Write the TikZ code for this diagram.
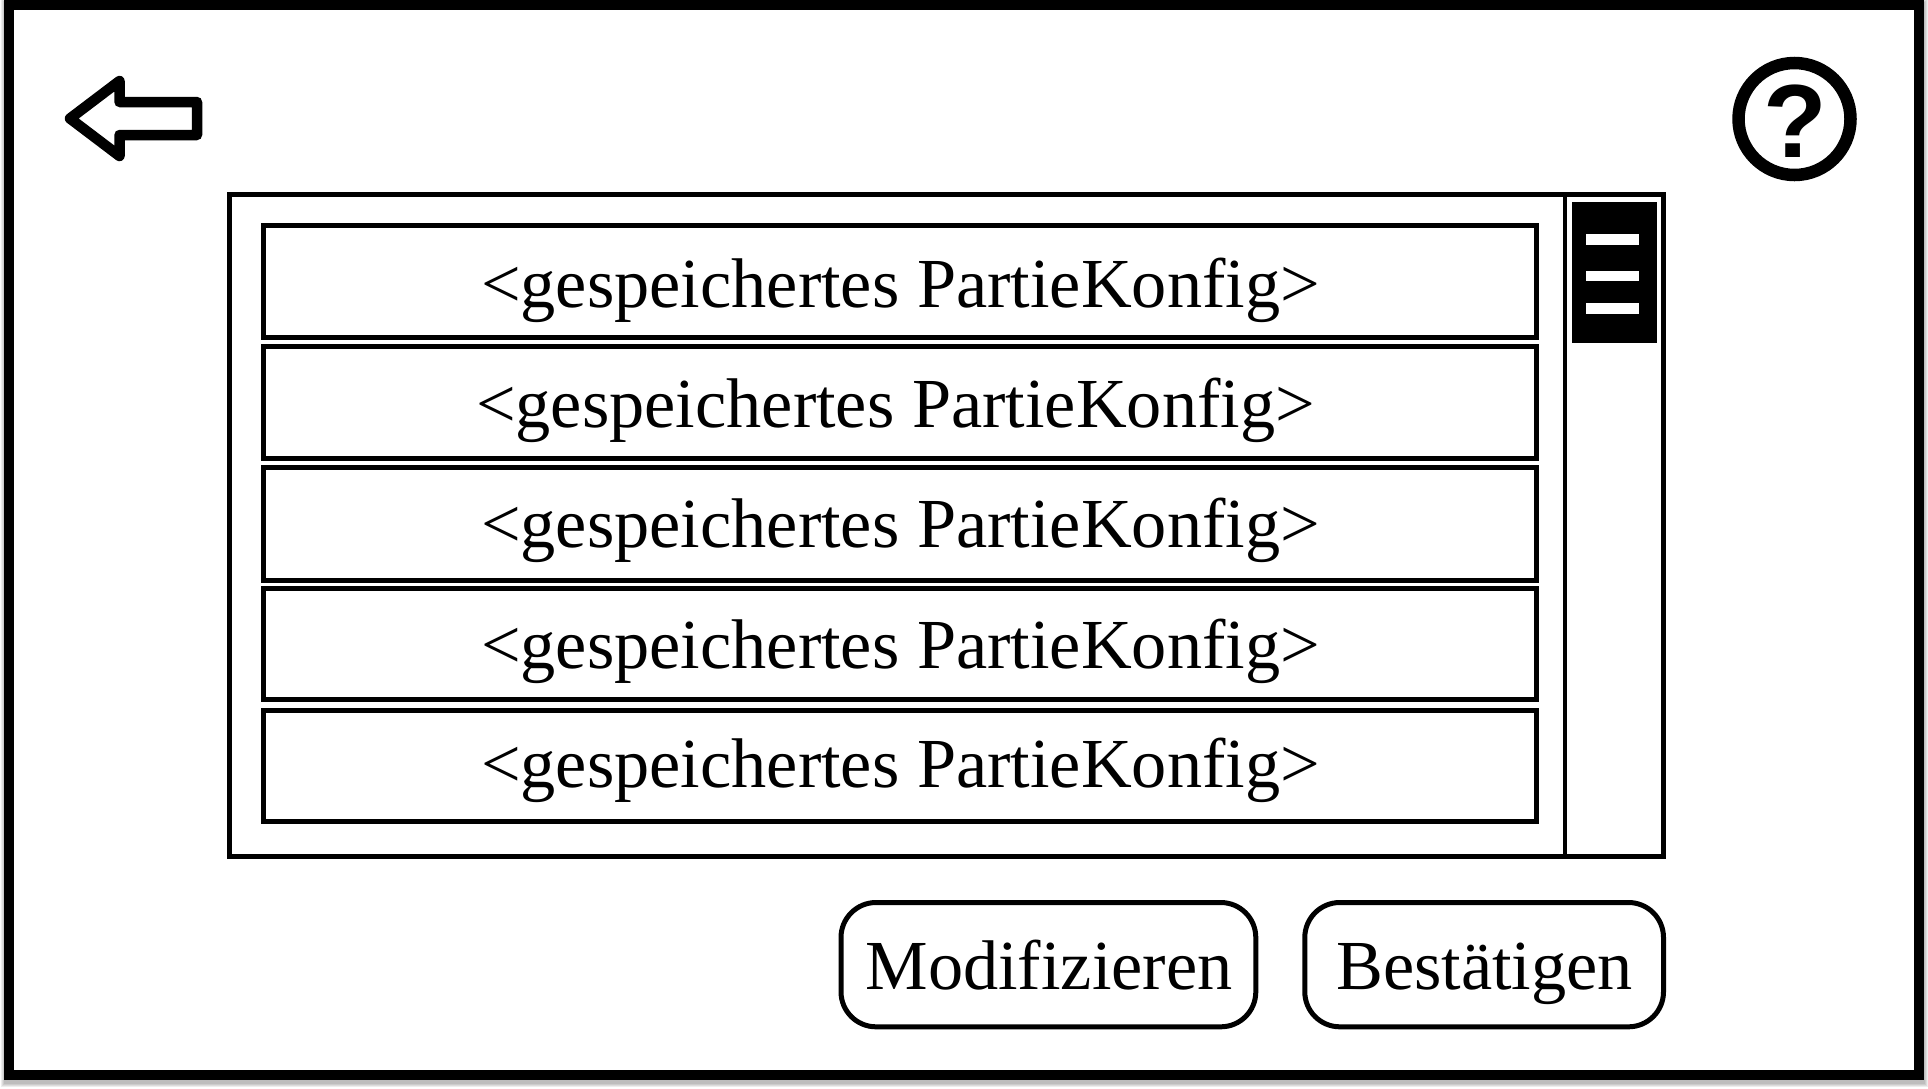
\documentclass[tikz,border=0pt]{standalone}
\usepackage{fontspec}
\setmainfont{Liberation Serif}
\newfontfamily\helpfont{Liberation Sans}
\tikzset{
  frameline/.style={draw=black,line width=10.5pt},
  frameshadow/.style={draw=black,opacity=.07},
  listbox/.style={draw=black,line width=5pt,fill=white},
  rowbox/.style={draw=black,line width=5pt,fill=white},
  btnbox/.style={draw=black,line width=5pt,fill=white,rounded corners=35pt},
  lbl/.style={anchor=base,inner sep=0pt,font=\fontsize{70.3}{80}\selectfont,text=black},
}
\begin{document}
\begin{tikzpicture}[x=1pt,y=-1pt]
\useasboundingbox (0,0) rectangle (1928,1088);
\fill[white] (0,0) rectangle (1928,1088);
\foreach \w in {11,13,15,17}{
  \draw[frameshadow,line width=\w pt] (9,4.5+3) rectangle (1919,1075+3);
}
\fill[white] (14,10) rectangle (1914,1070);
\draw[frameline] (9,4.5) rectangle (1919,1075);
% back arrow
\draw[line width=10.5pt,line join=round,fill=white] (70,118.5) -- (119.5,81) -- (119.5,102) -- (197,102) -- (197,135) -- (119.5,135) -- (119.5,156) -- cycle;
% help icon
\draw[line width=12.5pt,draw=black,fill=white] (1794.5,119) circle (56);
\node[anchor=base,inner sep=0pt,font=\helpfont\bfseries\fontsize{104}{110}\selectfont] (help) at (1795,157) {?};
% list
\draw[listbox] (229.5,194.5) rectangle (1663.5,856.5);
\coordinate (dtop) at (1565,194.5);
\coordinate (dbot) at (1565,856.5);
\draw[line width=4.5pt] (dtop) -- (dbot);
\fill[black] (1572,202) rectangle (1657,343);
\fill[white] (1586,234) rectangle (1639,245);
\fill[white] (1586,271) rectangle (1639,281);
\fill[white] (1586,303) rectangle (1639,314);
\foreach \i/\yt/\yb/\tx/\bl in {1/225.5/337.5/900.5/307.75,2/346.5/458.5/895.5/427.75,3/467.5/580.2/900.5/547.75,4/588.2/699.8/900.5/668.25,5/710.2/821.8/900.5/787.75}{
  \draw[rowbox] (263,\yt) rectangle (1536,\yb);
  \node[lbl] (row\i) at (\tx,\bl) {<gespeichertes PartieKonfig>};
}
% buttons
\draw[btnbox] (841,902.5) rectangle (1255.8,1026.8);
\node[lbl] (mod) at (1049,989) {Modifizieren};
\draw[btnbox] (1304.8,902.5) rectangle (1663.5,1026.8);
\node[lbl] (bst) at (1484.5,989) {Bestätigen};
\end{tikzpicture}
\end{document}
